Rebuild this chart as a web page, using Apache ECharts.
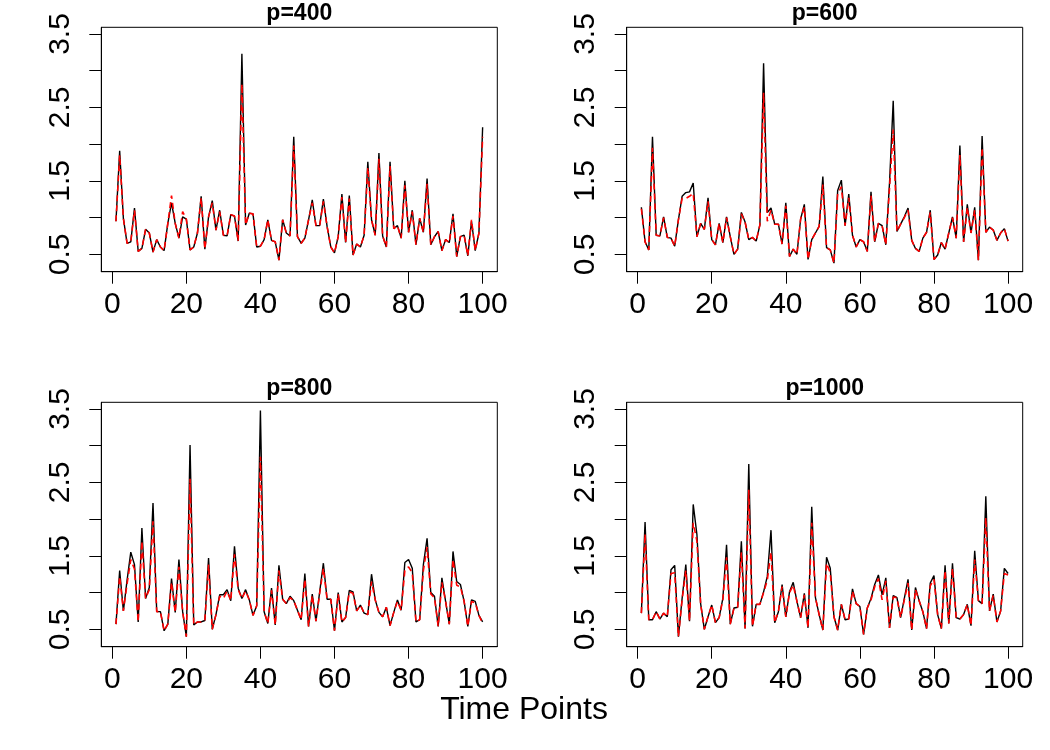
<!DOCTYPE html>
<html>
<head>
<meta charset="utf-8">
<script src="https://cdn.jsdelivr.net/npm/echarts@6/dist/echarts.min.js"></script>
<style>
	html, body { margin: 0; padding: 0; background: #fff; }
	#chart { width: 1050px; height: 750px; }
</style>
</head>
<body>
<div id="chart"></div>
<script>
// time points 1..100
const timePoints = Array.from({ length: 100 }, (_, i) => i + 1)
const panelTitles = ['p=400', 'p=600', 'p=800', 'p=1000']
const xTicks = [0, 20, 40, 60, 80, 100]
const yTicks = [0.5, 1, 1.5, 2, 2.5, 3, 3.5]
const yLabels = [0.5, 1.5, 2.5, 3.5]

// black solid line
const p400Black = [0.95,1.91,0.99,0.65,0.67,1.13,0.54,0.58,0.84,0.79,
	0.53,0.70,0.60,0.55,0.92,1.20,0.92,0.72,1.01,0.98,
	0.56,0.60,0.79,1.29,0.57,1.01,1.23,0.83,1.10,0.76,
	0.75,1.04,1.02,0.68,3.23,0.90,1.06,1.05,0.60,0.61,
	0.70,0.97,0.69,0.67,0.42,0.97,0.79,0.75,2.10,0.74,
	0.65,0.72,0.97,1.24,0.89,0.89,1.25,0.88,0.60,0.52,
	0.74,1.32,0.66,1.30,0.49,0.64,0.60,0.76,1.76,0.97,
	0.76,1.88,0.75,0.60,1.76,0.85,0.89,0.72,1.50,0.80,
	1.10,0.63,0.99,0.80,1.53,0.63,0.74,0.81,0.55,0.70,
	0.66,1.05,0.47,0.74,0.76,0.48,0.95,0.55,0.79,2.23]
// red dashed line
const p400Red = [0.95,1.85,0.99,0.65,0.67,1.10,0.54,0.58,0.84,0.79,
	0.53,0.70,0.60,0.55,0.92,1.30,0.92,0.72,1.08,0.98,
	0.56,0.60,0.79,1.27,0.57,1.01,1.20,0.83,1.08,0.76,
	0.75,1.04,1.02,0.68,2.82,0.90,1.06,1.05,0.60,0.61,
	0.70,0.97,0.69,0.67,0.42,0.97,0.79,0.75,1.98,0.74,
	0.65,0.72,0.97,1.20,0.89,0.89,1.22,0.88,0.60,0.52,
	0.74,1.28,0.66,1.26,0.49,0.64,0.60,0.76,1.68,0.97,
	0.76,1.80,0.75,0.60,1.70,0.85,0.89,0.72,1.44,0.80,
	1.08,0.63,0.99,0.80,1.46,0.63,0.74,0.81,0.55,0.70,
	0.66,1.02,0.47,0.74,0.76,0.48,0.97,0.55,0.79,2.10]

const p600Black = [1.14,0.67,0.56,2.10,0.76,0.75,1.01,0.73,0.72,0.61,
	0.97,1.29,1.34,1.35,1.47,0.74,0.92,0.84,1.27,0.70,
	0.63,0.92,0.66,1.01,0.74,0.50,0.57,1.07,0.94,0.70,
	0.73,0.68,0.90,3.10,1.07,1.13,0.91,0.91,0.64,1.20,
	0.47,0.57,0.50,0.98,1.18,0.43,0.70,0.79,0.88,1.56,
	0.59,0.56,0.38,1.37,1.51,0.89,1.32,0.76,0.60,0.70,
	0.67,0.54,1.35,0.67,0.92,0.89,0.63,1.47,2.59,0.81,
	0.91,1.01,1.13,0.69,0.58,0.54,0.72,0.80,1.10,0.43,
	0.49,0.66,0.57,0.79,1.01,0.72,1.98,0.67,1.18,0.79,
	1.14,0.42,2.11,0.80,0.87,0.83,0.69,0.79,0.85,0.68]
const p600Red = [1.12,0.67,0.56,1.95,0.76,0.75,1.00,0.73,0.72,0.61,
	0.97,1.26,1.26,1.29,1.33,0.74,0.92,0.84,1.22,0.70,
	0.63,0.92,0.66,1.00,0.74,0.50,0.57,1.05,0.94,0.70,
	0.73,0.68,0.90,2.70,0.95,1.10,0.91,0.91,0.64,1.16,
	0.47,0.57,0.50,0.98,1.14,0.43,0.70,0.79,0.88,1.45,
	0.59,0.56,0.38,1.32,1.42,0.89,1.27,0.76,0.60,0.70,
	0.67,0.54,1.30,0.67,0.92,0.89,0.63,1.40,2.20,0.81,
	0.91,1.00,1.10,0.69,0.58,0.54,0.72,0.80,1.07,0.43,
	0.49,0.66,0.57,0.79,1.00,0.72,1.85,0.67,1.14,0.79,
	1.10,0.42,1.95,0.80,0.87,0.83,0.69,0.79,0.85,0.68]

const p800Black = [0.57,1.30,0.75,1.17,1.55,1.38,0.60,1.88,0.92,1.07,
	2.22,0.74,0.74,0.48,0.57,1.19,0.73,1.45,0.74,0.40,
	3.01,0.56,0.60,0.60,0.62,1.47,0.50,0.70,0.97,0.97,
	1.04,0.89,1.63,1.06,0.92,1.04,0.90,0.69,0.82,3.48,
	0.74,0.58,1.06,0.56,1.37,0.91,0.85,0.95,0.89,0.76,
	0.63,1.26,0.54,0.98,0.61,1.01,1.40,0.91,0.91,0.48,
	1.00,0.60,0.66,1.03,1.01,0.75,0.83,0.72,0.70,1.25,
	0.90,0.73,0.67,0.80,0.55,0.73,0.90,0.76,1.41,1.45,
	1.33,0.60,0.63,1.38,1.74,1.00,0.95,0.54,1.20,0.88,
	0.57,1.56,1.15,1.11,0.88,0.54,0.90,0.88,0.69,0.60]
const p800Red = [0.57,1.22,0.75,1.12,1.45,1.32,0.60,1.70,0.92,1.04,
	1.97,0.74,0.74,0.48,0.57,1.14,0.73,1.35,0.74,0.40,
	2.55,0.56,0.60,0.60,0.62,1.38,0.50,0.70,0.95,0.92,
	1.02,0.89,1.52,1.04,0.92,1.02,0.90,0.69,0.82,2.85,
	0.74,0.58,1.03,0.56,1.30,0.91,0.85,0.93,0.89,0.76,
	0.63,1.18,0.54,0.96,0.61,0.99,1.33,0.91,0.91,0.48,
	0.98,0.60,0.66,1.01,0.99,0.75,0.83,0.72,0.70,1.15,
	0.90,0.73,0.67,0.80,0.55,0.73,0.88,0.76,1.30,1.35,
	1.27,0.60,0.63,1.30,1.62,0.98,0.93,0.54,1.14,0.88,
	0.57,1.45,1.10,1.08,0.88,0.54,0.88,0.86,0.69,0.58]

const p1000Black = [0.72,1.96,0.63,0.63,0.74,0.64,0.72,0.67,1.31,1.37,
	0.40,0.92,1.38,0.61,2.20,1.79,0.85,0.50,0.67,0.83,
	0.59,0.66,0.92,1.65,0.57,0.79,0.80,1.70,0.51,2.75,
	0.54,0.84,0.84,1.01,1.22,1.85,0.59,0.74,1.11,0.67,
	1.01,1.14,0.88,0.66,0.99,0.52,2.17,0.93,0.70,0.49,
	1.48,1.33,0.67,0.49,0.84,0.63,0.64,1.05,0.85,0.81,
	0.43,0.79,0.92,1.11,1.24,0.97,1.20,0.52,0.96,0.93,
	0.66,0.92,1.18,0.49,1.07,0.89,0.74,0.51,1.13,1.23,
	0.70,0.51,1.37,0.58,1.40,0.66,0.64,0.70,0.84,0.55,
	1.57,0.89,0.85,2.31,0.75,0.98,0.60,0.75,1.33,1.26]
const p1000Red = [0.72,1.80,0.63,0.63,0.74,0.64,0.72,0.67,1.26,1.27,
	0.40,0.90,1.30,0.61,1.95,1.70,0.85,0.50,0.67,0.83,
	0.59,0.66,0.90,1.48,0.57,0.79,0.80,1.55,0.51,2.40,
	0.54,0.84,0.84,1.00,1.17,1.55,0.59,0.74,1.08,0.67,
	1.00,1.10,0.88,0.66,0.97,0.52,1.95,0.93,0.70,0.49,
	1.40,1.27,0.67,0.49,0.84,0.63,0.64,1.02,0.85,0.81,
	0.43,0.79,0.90,1.08,1.19,0.90,1.16,0.52,0.94,0.93,
	0.66,0.90,1.13,0.49,1.04,0.89,0.74,0.51,1.09,1.18,
	0.70,0.51,1.30,0.58,1.33,0.66,0.64,0.70,0.84,0.55,
	1.45,0.89,0.85,2.02,0.75,0.96,0.60,0.75,1.26,1.24]

const blackSeries = [p400Black, p600Black, p800Black, p1000Black]
const redSeries = [p400Red, p600Red, p800Red, p1000Red]

const font = 'Liberation Sans'
const gridLefts = [101.3, 626.7, 101.3, 626.7]
const gridTops = [27.3, 27.3, 402.3, 402.3]
const gridW = 396
const gridH = 244.4

const grids = []
const xAxes = []
const yAxes = []
const series = []
const titles = []

for (let k = 0; k < 4; k++) {
	grids.push({
		left: gridLefts[k],
		top: gridTops[k],
		width: gridW,
		height: gridH,
		show: true,
		borderColor: '#000',
		borderWidth: 1,
		backgroundColor: 'transparent'
	})
	xAxes.push({
		type: 'value',
		gridIndex: k,
		min: -2.96,
		max: 103.96,
		axisLine: { show: true, onZero: false, lineStyle: { color: '#000', width: 1 } },
		axisTick: { show: true, length: 12, customValues: xTicks, lineStyle: { color: '#000', width: 1 } },
		axisLabel: { customValues: xTicks, color: '#000', fontFamily: font, fontSize: 30, margin: 18 },
		splitLine: { show: false }
	})
	yAxes.push({
		type: 'value',
		gridIndex: k,
		min: 0.263,
		max: 3.591,
		axisLine: { show: true, onZero: false, lineStyle: { color: '#000', width: 1 } },
		axisTick: { show: true, length: 12, customValues: yTicks, lineStyle: { color: '#000', width: 1 } },
		axisLabel: {
			customValues: yLabels,
			rotate: 90,
			color: '#000',
			fontFamily: font,
			fontSize: 30,
			margin: 26,
			formatter: v => v.toFixed(1)
		},
		splitLine: { show: false }
	})
	series.push({
		type: 'line',
		xAxisIndex: k,
		yAxisIndex: k,
		data: blackSeries[k].map((v, i) => [timePoints[i], v]),
		showSymbol: false,
		symbol: 'none',
		lineStyle: { color: '#000', width: 1.4 },
		z: 2
	})
	series.push({
		type: 'line',
		xAxisIndex: k,
		yAxisIndex: k,
		data: redSeries[k].map((v, i) => [timePoints[i], v]),
		showSymbol: false,
		symbol: 'none',
		lineStyle: { color: '#ff0000', width: 1.6, type: [6, 4] },
		z: 3
	})
	titles.push({
		text: panelTitles[k],
		left: gridLefts[k] + gridW / 2,
		top: gridTops[k] - 25,
		textAlign: 'center',
		padding: 0,
		textStyle: { fontFamily: font, fontSize: 23, fontWeight: 'bold', color: '#000' }
	})
}

titles.push({
	text: 'Time Points',
	left: 524,
	top: 694,
	textAlign: 'center',
	padding: 0,
	textStyle: { fontFamily: font, fontSize: 32, fontWeight: 'normal', color: '#000' }
})

const myChart = echarts.init(document.getElementById('chart'), null, { renderer: 'canvas' })
myChart.setOption({
	animation: false,
	backgroundColor: '#fff',
	title: titles,
	grid: grids,
	xAxis: xAxes,
	yAxis: yAxes,
	series: series
})
</script>
</body>
</html>
